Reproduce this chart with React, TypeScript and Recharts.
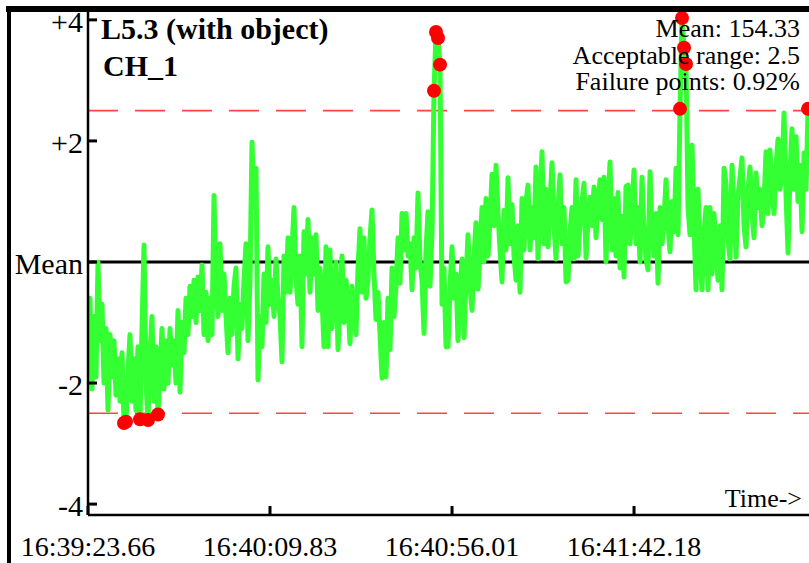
import { Line, LineChart, ReferenceLine, XAxis, YAxis } from "recharts";

// deviation from the mean, one sample every SAMPLE_STEP seconds
const SAMPLE_STEP = 0.5074;
const VALUES = [
  -1.5, -0.6, -2.1, -0.9, -1.9, 0.0, -1.3, -0.7, -2.0, -1.1,
  -2.45, -1.2, -1.9, -1.3, -2.2, -1.6, -2.3, -1.5, -2.66, -2.64,
  -1.8, -1.2, -2.3, -1.6, -2.45, -1.4, -2.6, -1.1, 0.28, -2.0,
  -2.61, -1.5, -0.9, -2.3, -1.4, -2.52, -1.8, -1.1, -2.1, -1.3,
  -2.0, -1.1, -1.7, -1.3, -2.0, -0.8, -2.15, -1.0, -1.5, -0.6,
  -1.2, -0.4, -0.9, -0.3, -1.0, -0.25, -0.8, -0.05, -1.2, -0.5,
  -1.3, -0.6, -1.2, 1.1, -0.4, -0.9, 0.3, -0.8, -0.2, -0.9,
  -1.5, -0.6, -1.2, -0.4, -0.1, -1.6, -0.7, -1.1, -0.3, 0.3,
  -1.3, -0.3, 1.98, 0.9, 1.55, -1.95, -0.9, -1.4, -0.2, -1.0,
  0.25, -0.7, -0.3, -0.9, 0.05, -0.6, -0.9, -1.65, 0.1, -0.5,
  0.4, -0.5, 0.2, 0.9, -0.3, -0.7, 0.1, -1.4, 0.5, -0.2,
  0.7, -0.5, 0.4, -0.2, 0.45, -0.8, -0.1, -0.6, -1.4, 0.25,
  -1.4, 0.2, -1.1, -0.5, 0.0, -1.45, -0.6, 0.1, -1.0, -0.3,
  -0.7, -1.35, -0.4, -0.9, -1.2, -0.1, 0.55, -0.5, 0.4, -0.6,
  -0.3, 0.4, 0.86, -0.2, -0.95, -0.5, -1.2, -1.92, -1.0, -1.9,
  -0.6, -1.45, -0.1, -0.9, -0.4, 0.4, -0.35, 0.8, 0.2, 0.8,
  0.1, 0.3, -0.46, 0.4, -0.1, 1.14, 0.0, -0.3, -1.18, 0.2,
  0.83, -0.4, 0.48, 2.83, 3.8, 3.7, 3.26, -0.7, -0.1, -1.4,
  -1.4, -0.4, 0.25, -0.6, -0.2, -1.3, -0.5, 0.05, -1.25, -0.3,
  0.45, -0.4, -0.8, 0.1, 0.65, -0.45, 0.2, 0.9, 0.0, 1.05,
  0.1, 0.7, 1.45, 0.6, 1.6, 0.8, 0.2, -0.33, 0.85, 0.2,
  1.39, 0.3, 0.95, 0.1, -0.3, 0.6, -0.5, 1.05, 0.2, 1.0,
  1.27, 0.2, 0.9, 0.4, 1.57, 0.05, 1.0, 1.82, 0.3, 1.2,
  0.25, 1.0, 1.64, 0.6, 0.05, 0.9, 1.44, 0.3, 0.9, -0.33,
  -0.3, 0.5, 0.9, 0.05, 1.36, 0.1, 0.6, 1.0, 1.3, 0.07,
  0.7, 1.07, 0.6, 1.24, 0.4, 1.0, 1.36, 0.7, 1.4, 0.0,
  1.0, 1.65, 0.2, 1.05, 0.1, 1.15, -0.1, 0.75, -0.25, 1.25,
  1.27, 0.3, 0.9, 1.52, 0.3, 0.9, 0.0, 1.4, 0.5, 0.05,
  -0.13, 1.49, 0.5, 0.1, 0.8, -0.35, 0.9, 0.3, 0.7, 1.36,
  0.6, 0.17, 1.0, 0.5, 1.55, 0.45, 2.53, 4.03, 3.54, 3.27,
  0.9, 0.45, 1.93, 0.6, -0.46, 1.2, 0.1, -0.46, 0.5, 0.9,
  -0.46, 0.9, -0.2, 0.8, 0.2, -0.3, 0.6, -0.46, 1.55, 1.3,
  0.35, 0.05, 1.6, 0.8, 0.08, 1.1, 1.4, 1.72, 0.6, 0.25,
  1.2, 1.57, 0.8, 0.4, 1.47, 0.9, 1.2, 0.6, 1.0, 1.82,
  0.8, 1.85, 1.2, 0.8, 1.6, 2.03, 1.2, 1.5, 2.46, 1.1,
  0.15, 1.5, 2.2, 1.2, 2.07, 1.0, 1.6, 0.5, 1.8, 1.2, 2.53
];

const X_TICKS = [0, 46.17, 92.35, 138.52];
const X_TICK_LABELS = ["16:39:23.66", "16:40:09.83", "16:40:56.01", "16:41:42.18"];
const Y_TICKS = [4, 2, 0, -2, -4];
const Y_TICK_LABELS = ["+4", "+2", "Mean", "-2", "-4"];
const LIMIT = 2.5;
const TITLE = ["L5.3 (with object)", "CH_1"];
const STATS = ["Mean: 154.33", "Acceptable range: 2.5", "Failure points: 0.92%"];

const data = VALUES.map((v, i) => ({ t: i * SAMPLE_STEP, v }));

const FONT = '"Liberation Serif", "Times New Roman", serif';

function nearest(list: number[], value: number) {
  let best = 0;
  list.forEach((d, i) => {
    if (Math.abs(d - value) < Math.abs(list[best] - value)) best = i;
  });
  return best;
}

function YTick(props: any) {
  const { x, y, payload } = props;
  const label = Y_TICK_LABELS[nearest(Y_TICKS, payload.value)];
  return (
    <g>
      <line x1={x + 5} x2={x + 14} y1={y} y2={y} stroke="#000" strokeWidth={3} />
      <text x={x} y={y + 12} textAnchor="end" fontFamily={FONT} fontSize={30} fill="#000">
        {label}
      </text>
    </g>
  );
}

function XTick(props: any) {
  const { x, y, payload } = props;
  const label = X_TICK_LABELS[nearest(X_TICKS, payload.value)];
  return (
    <g>
      <line x1={x} x2={x} y1={y - 9} y2={y} stroke="#000" strokeWidth={3} />
      <text x={x} y={y + 41} textAnchor="middle" fontFamily={FONT} fontSize={28} fill="#000">
        {label}
      </text>
    </g>
  );
}

function FailDot(props: any) {
  const { cx, cy, payload, index } = props;
  if (Math.abs(payload.v) > LIMIT) {
    return <circle key={`f${index}`} cx={cx} cy={cy} r={7} fill="#ff0000" />;
  }
  return <g key={`n${index}`} />;
}

export default function App() {
  return (
    <div
      style={{
        position: "absolute",
        left: 0,
        top: 0,
        width: 809,
        height: 563,
        overflow: "hidden",
        background: "#fff"
      }}
    >
      <LineChart
        width={820}
        height={563}
        data={data}
        margin={{ top: 12, right: 0, bottom: 0, left: 8 }}
      >
        <XAxis
          type="number"
          dataKey="t"
          domain={[0, 185.7]}
          ticks={X_TICKS}
          allowDataOverflow
          height={48}
          tickSize={0}
          tickMargin={0}
          tickLine={false}
          axisLine={{ stroke: "#000", strokeWidth: 2.5 }}
          tick={<XTick />}
        />
        <YAxis
          type="number"
          domain={[-4.18, 4.13]}
          ticks={Y_TICKS}
          allowDataOverflow
          width={80}
          tickSize={0}
          tickMargin={5}
          tickLine={false}
          axisLine={{ stroke: "#000", strokeWidth: 2.5 }}
          tick={<YTick />}
        />
        <ReferenceLine y={0} stroke="#000" strokeWidth={3} />
        <ReferenceLine y={LIMIT} stroke="#ff4444" strokeWidth={1.6} strokeDasharray="30 17" />
        <ReferenceLine y={-LIMIT} stroke="#ff4444" strokeWidth={1.6} strokeDasharray="30 17" />
        <Line
          type="linear"
          dataKey="v"
          stroke="#33ff33"
          strokeWidth={5}
          strokeLinejoin="round"
          strokeLinecap="round"
          dot={FailDot}
          activeDot={false}
          isAnimationActive={false}
        />
      </LineChart>

      <svg
        width={809}
        height={563}
        style={{ position: "absolute", left: 0, top: 0, pointerEvents: "none" }}
      >
        <text x={101} y={39} fontFamily={FONT} fontSize={30} fontWeight="bold" fill="#000">
          {TITLE[0]}
        </text>
        <text x={103} y={76} fontFamily={FONT} fontSize={30} fontWeight="bold" fill="#000">
          {TITLE[1]}
        </text>
        {STATS.map((s, i) => (
          <text
            key={s}
            x={800}
            y={37 + i * 26.5}
            textAnchor="end"
            fontFamily={FONT}
            fontSize={26}
            fill="#000"
          >
            {s}
          </text>
        ))}
        <text x={802} y={507} textAnchor="end" fontFamily={FONT} fontSize={26} fill="#000">
          Time-&gt;
        </text>
      </svg>

      <div style={{ position: "absolute", left: 6, top: 6, width: 803, height: 6, background: "#000" }} />
      <div style={{ position: "absolute", left: 7, top: 6, width: 4, height: 557, background: "#000" }} />
    </div>
  );
}
